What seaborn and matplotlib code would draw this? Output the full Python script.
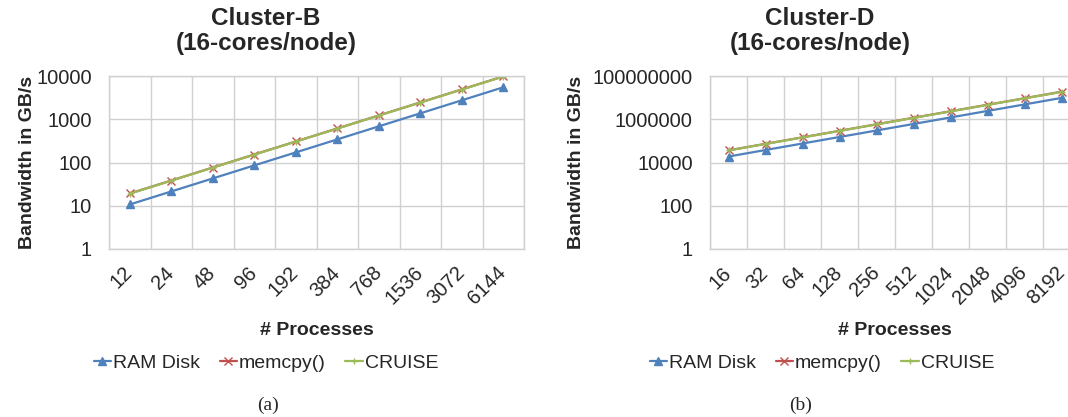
import numpy as np
import pandas as pd
import matplotlib
matplotlib.use("Agg")
import matplotlib.pyplot as plt
import seaborn as sns
from matplotlib.ticker import FixedLocator, FixedFormatter

sns.set_theme(style="white")
plt.rcParams['font.family'] = ['Liberation Sans', 'DejaVu Sans']

# ---- data ----
series = ["RAM Disk", "memcpy()", "CRUISE"]

procs_b = ["12", "24", "48", "96", "192", "384", "768", "1536", "3072", "6144"]
ram_b = [10.7, 21.4, 42.8, 85.6, 171, 342, 685, 1370, 2740, 5480]
memcpy_b = [19.2, 38.3, 76.5, 153, 306, 612, 1224, 2448, 4896, 9790]
cruise_b = [19.0, 38.0, 76.0, 152, 304, 607, 1214, 2428, 4856, 9712]

procs_d = ["16", "32", "64", "128", "256", "512", "1024", "2048", "4096", "8192"]
ram_d = [18900, 37800, 75600, 151000, 302000, 605000, 1210000, 2420000, 4840000, 9680000]
memcpy_d = [36500, 73000, 146000, 292000, 584000, 1170000, 2340000, 4670000, 9340000, 18700000]
cruise_d = [36000, 72000, 144000, 288000, 576000, 1150000, 2300000, 4610000, 9220000, 18400000]

yticks_b = [1, 10, 100, 1000, 10000]
yticks_d = [1, 100, 10000, 1000000, 100000000]

colors = {"RAM Disk": "#4F81BD", "memcpy()": "#C0504D", "CRUISE": "#9BBB59"}
markers = {"RAM Disk": "^", "memcpy()": "x", "CRUISE": "+"}
msizes = {"RAM Disk": 6, "memcpy()": 6, "CRUISE": 5}

W, H = 1068, 417
fig = plt.figure(figsize=(W / 100, H / 100), dpi=100)


def px_axes(x0, x1, y0, y1):
    return fig.add_axes([x0 / W, (H - y1) / H, (x1 - x0) / W, (y1 - y0) / H])


grid_c = "#D0D0D0"


def draw(ax, procs, vals, yticks, ylim, leg_x):
    for name, v in zip(series, vals):
        df = pd.DataFrame({"procs": procs, "bw": v})
        sns.lineplot(data=df, x="procs", y="bw", color=colors[name],
                     marker=markers[name], markersize=msizes[name],
                     markeredgewidth=1.0, markeredgecolor=colors[name],
                     linewidth=1.6, sort=False, label=name, ax=ax)
    ax.set_yscale("log")
    ax.set_ylim(*ylim)
    ax.set_xlim(-0.5, len(procs) - 0.5)
    ax.yaxis.set_major_locator(FixedLocator(yticks))
    ax.yaxis.set_major_formatter(FixedFormatter([str(t) for t in yticks]))
    ax.yaxis.set_minor_locator(FixedLocator([]))
    ax.set_xticks(range(len(procs)))
    ax.set_xticklabels(procs, rotation=45, ha="right", va="center",
                       rotation_mode="anchor")
    ax.set_xticks(np.arange(-0.5, len(procs), 1), minor=True)
    ax.tick_params(axis="x", which="both", length=0, pad=15, labelsize=14.5)
    ax.tick_params(axis="y", length=0, pad=12.5, labelsize=14.5)
    ax.grid(False)
    ax.grid(True, axis="y", which="major", color=grid_c, linewidth=1)
    ax.grid(True, axis="x", which="minor", color=grid_c, linewidth=1)
    for s in ax.spines.values():
        s.set_color(grid_c)
        s.set_linewidth(1)
    ax.set_xlabel("# Processes", fontsize=14, fontweight="bold", labelpad=10)
    ax.set_ylabel("Bandwidth in GB/s", fontsize=14, fontweight="bold")
    ax.legend(loc="center", bbox_to_anchor=(leg_x, -0.66), ncol=3,
              frameon=False, fontsize=14, handlelength=0.9,
              handletextpad=0.1, columnspacing=1.0)


ax1 = px_axes(109, 524, 76, 249)
draw(ax1, procs_b, [ram_b, memcpy_b, cruise_b], yticks_b, (1, 10000),
     (266 - 109) / 415)
ax1.yaxis.set_label_coords((36 - 109) / 415, 0.5)

ax2 = px_axes(710, 1080, 76, 249)
draw(ax2, procs_d, [ram_d, memcpy_d, cruise_d], yticks_d, (1, 1e8),
     (822 - 710) / 370)
ax2.yaxis.set_label_coords((585 - 710) / 370, 0.5)

fig.text(266 / W, 1 - 7 / H, "Cluster-B\n(16-cores/node)", ha="center", va="top",
         fontsize=17.5, fontweight="bold", linespacing=1.1)
fig.text(820 / W, 1 - 7 / H, "Cluster-D\n(16-cores/node)", ha="center", va="top",
         fontsize=17.5, fontweight="bold", linespacing=1.1)

fig.text(268 / W, 1 - 405 / H, "(a)", ha="center", va="center", fontsize=14,
         family=["Liberation Serif", "DejaVu Serif"])
fig.text(801 / W, 1 - 405 / H, "(b)", ha="center", va="center", fontsize=14,
         family=["Liberation Serif", "DejaVu Serif"])

fig.savefig("out.png", dpi=100)
